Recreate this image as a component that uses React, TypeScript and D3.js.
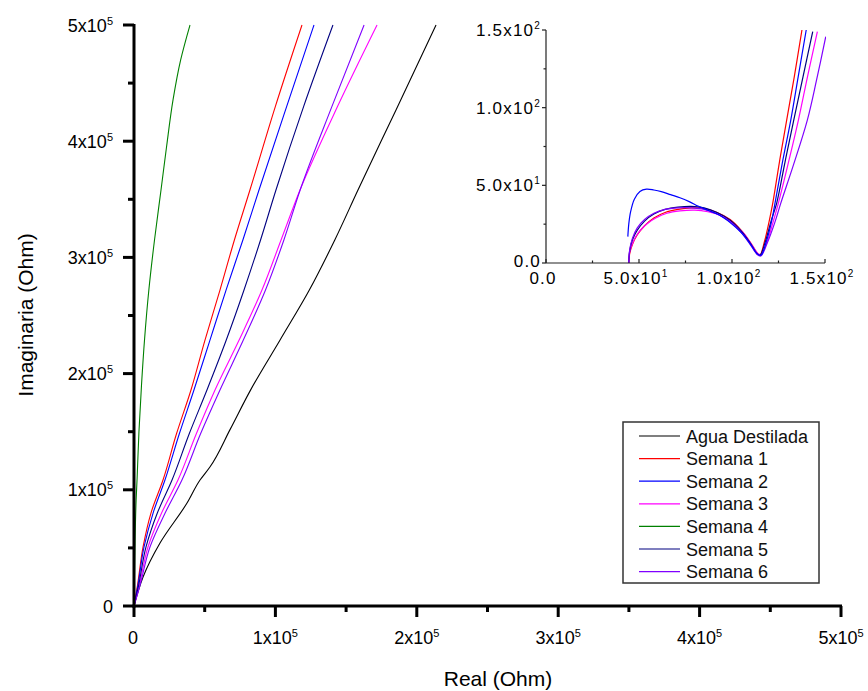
import * as d3 from 'd3';
import React from 'react';

// series names and colours, in legend order
const seriesNames = ['Agua Destilada', 'Semana 1', 'Semana 2', 'Semana 3', 'Semana 4', 'Semana 5', 'Semana 6'];
const seriesColors = ['#000000', '#ff0000', '#0000ff', '#ff00ff', '#008000', '#000080', '#8000ff'];

// main plot: [real, imaginary] in Ohm
const aguaDestilada = [[0, 0], [6.4e3, 25e3], [18.4e3, 54.2e3], [37.5e3, 88.6e3], [46.7e3, 108.4e3], [53.7e3, 119.6e3], [68e3, 152e3], [82.5e3, 186e3], [103.3e3, 228.9e3], [124e3, 271.9e3], [142e3, 315e3], [158.4e3, 358e3], [185.3e3, 426.9e3], [213.6e3, 500e3]];
const semana1 = [[0, 0], [2.5e3, 18e3], [6.4e3, 50.8e3], [12e3, 80e3], [20.5e3, 108.4e3], [30e3, 148e3], [40.3e3, 185.9e3], [50e3, 228e3], [60.8e3, 271.9e3], [71e3, 315e3], [82e3, 358e3], [100e3, 430e3], [118.8e3, 500e3]];
const semana2 = [[0, 0], [2.8e3, 18e3], [7.1e3, 50.8e3], [13.5e3, 80e3], [21.9e3, 108.4e3], [32e3, 148e3], [42.4e3, 185.9e3], [53.5e3, 228e3], [65.1e3, 271.9e3], [77e3, 315e3], [88.4e3, 358e3], [108e3, 430e3], [127.3e3, 500e3]];
const semana3 = [[0, 0], [3.8e3, 18e3], [9.9e3, 50.8e3], [19.5e3, 80e3], [31.1e3, 108.4e3], [44e3, 148e3], [57.3e3, 185.9e3], [74e3, 228e3], [90.5e3, 271.9e3], [104e3, 315e3], [117.4e3, 358e3], [144e3, 430e3], [171.9e3, 500e3]];
const semana4 = [[0, 0], [0.4e3, 30e3], [0.8e3, 60e3], [1.5e3, 91e3], [2.2e3, 110e3], [3.5e3, 150e3], [5.3e3, 190e3], [7.5e3, 230e3], [10.5e3, 271.9e3], [14.5e3, 315e3], [19.1e3, 358e3], [23e3, 395e3], [27.6e3, 435.5e3], [33e3, 470e3], [39.6e3, 500e3]];
const semana5 = [[0, 0], [3.3e3, 18e3], [8.5e3, 50.8e3], [16.5e3, 80e3], [26.9e3, 108.4e3], [39e3, 148e3], [51.6e3, 185.9e3], [65e3, 228e3], [77.8e3, 271.9e3], [89.5e3, 315e3], [100.4e3, 358e3], [120e3, 430e3], [140.7e3, 500e3]];
const semana6 = [[0, 0], [4.3e3, 18e3], [11.3e3, 50.8e3], [22e3, 80e3], [33.9e3, 108.4e3], [47e3, 148e3], [60.8e3, 185.9e3], [77e3, 228e3], [93e3, 271.9e3], [106e3, 315e3], [117.5e3, 358e3], [140e3, 430e3], [162.7e3, 500e3]];

// inset (zoom near the origin), Ohm
const inset1 = [[44.5, 0], [45, 6], [46.5, 12], [49, 18], [53, 24], [58, 29], [64, 32.5], [71, 34.5], [78, 35.5], [85, 35], [92, 32.5], [99, 28], [105, 21], [110, 13], [113.5, 6.5], [115, 5], [117.5, 14], [120, 27], [121.9, 38.4], [125.5, 65], [129.4, 92], [133.5, 120], [137.6, 150]];
const inset2 = [[44, 17], [44.5, 25], [45.5, 33], [47.5, 41], [50.5, 46], [54, 47.5], [58, 47], [62, 46], [67, 44], [72, 42], [77, 39.5], [82, 36.5], [87, 34], [93, 31], [99, 26], [105, 19.5], [110, 12], [113.5, 6], [115.5, 5], [118.5, 14], [121.5, 28], [123.1, 38.4], [127.3, 66], [131.6, 92], [135.6, 120], [139.9, 150]];
const inset3 = [[44.5, 0], [45, 7], [47, 14], [50, 20], [54, 25], [59, 29], [65, 32], [72, 33.5], [80, 34], [87, 33], [94, 30.5], [100, 26], [106, 19.5], [110.5, 12], [114, 6], [115.5, 5.5], [119, 14], [122, 26], [124.9, 38.4], [130, 63], [135.7, 92], [140.6, 120], [145.9, 149]];
const inset5 = [[44.5, 0], [45, 8], [46.5, 15], [49, 21], [53, 27], [58, 31.5], [64, 34.5], [71, 36], [78, 36.5], [85, 35.5], [92, 32.5], [99, 27.5], [105, 20.5], [110, 12.5], [113.5, 6], [115, 5], [118, 14], [121, 27], [124, 38.4], [128.5, 65], [133.2, 92], [138.2, 120], [143.4, 149]];
const inset6 = [[44.5, 0], [45, 8.5], [46.5, 16], [49, 22.5], [53, 28], [58, 32], [64, 34.5], [71, 35.5], [78, 35.5], [85, 34.5], [92, 31.5], [99, 26.5], [105, 19.5], [110, 11.5], [113.5, 5.5], [115.5, 4.5], [119, 13], [123, 26], [126.2, 38.4], [133, 63], [140.5, 92], [145.5, 118], [150.4, 145.7]];

const mainSeries = [aguaDestilada, semana1, semana2, semana3, semana4, semana5, semana6];
const insetSeries = [
  { data: inset1, color: 1 },
  { data: inset3, color: 3 },
  { data: inset5, color: 5 },
  { data: inset6, color: 6 },
  { data: inset2, color: 2 },
];

const mainTicks = [0, 1e5, 2e5, 3e5, 4e5, 5e5];
const mainMinor = [0.5e5, 1.5e5, 2.5e5, 3.5e5, 4.5e5];
const mainTickLabels = [['0', ''], ['1x10', '5'], ['2x10', '5'], ['3x10', '5'], ['4x10', '5'], ['5x10', '5']];
const insetTicks = [0, 50, 100, 150];
const insetMinor = [25, 75, 125];
const insetTickLabels = [['0.0', ''], ['5.0x10', '1'], ['1.0x10', '2'], ['1.5x10', '2']];

const font = '"Liberation Sans", Arial, sans-serif';

const Label = ({ x, y, anchor, parts, size, sup, ls = 0 }) => (
  <text x={x} y={y} textAnchor={anchor} fontSize={size} fontFamily={font} fill="#000" letterSpacing={ls}>
    {parts[0]}
    {parts[1] && (
      <tspan dy={-7} fontSize={sup}>
        {parts[1]}
      </tspan>
    )}
  </text>
);

export default function App() {
  const x = d3.scaleLinear().domain([0, 5e5]).range([134, 841]);
  const y = d3.scaleLinear().domain([0, 5e5]).range([606, 25]);
  const xi = d3.scaleLinear().domain([0, 150]).range([546, 825]);
  const yi = d3.scaleLinear().domain([0, 150]).range([263, 30]);

  // smooth the read-off points a little
  const line = d3.line().x((d) => x(d[0])).y((d) => y(d[1])).curve(d3.curveMonotoneY);
  const lineI = d3.line().x((d) => xi(d[0])).y((d) => yi(d[1])).curve(d3.curveCatmullRom.alpha(0.5));

  return (
    <svg width={868} height={691} style={{ position: 'absolute', left: 0, top: 0, background: '#fff' }}>
      <defs>
        <clipPath id="mainClip">
          <rect x={134} y={24} width={708} height={583} />
        </clipPath>
        <clipPath id="insetClip">
          <rect x={546} y={29} width={280} height={235} />
        </clipPath>
      </defs>

      {/* main curves */}
      <g clipPath="url(#mainClip)" fill="none" strokeWidth={1.1}>
        {mainSeries.map((s, i) => (
          <path key={i} d={line(s)} stroke={seriesColors[i]} />
        ))}
      </g>

      {/* main axes */}
      <g stroke="#000" strokeWidth={3} fill="none">
        <line x1={134} x2={134} y1={24} y2={607.5} />
        <line x1={132.5} x2={842} y1={606} y2={606} />
        {mainTicks.map((t) => (
          <g key={t}>
            <line x1={123} x2={134} y1={y(t)} y2={y(t)} />
            <line x1={x(t)} x2={x(t)} y1={606} y2={617} />
          </g>
        ))}
        {mainMinor.map((t) => (
          <g key={t}>
            <line x1={128} x2={134} y1={y(t)} y2={y(t)} />
            <line x1={x(t)} x2={x(t)} y1={606} y2={612} />
          </g>
        ))}
      </g>
      {mainTicks.map((t, i) => (
        <g key={t}>
          <Label x={113} y={y(t) + 6.5} anchor="end" parts={mainTickLabels[i]} size={18} sup={11} />
          <Label x={x(t) + (i === 0 ? -1 : 0)} y={644} anchor="middle" parts={mainTickLabels[i]} size={18} sup={11} />
        </g>
      ))}
      <text x={498} y={686} textAnchor="middle" fontSize={21} fontFamily={font}>Real (Ohm)</text>
      <text transform="translate(33,315) rotate(-90)" textAnchor="middle" fontSize={21} fontFamily={font}>Imaginaria (Ohm)</text>

      {/* inset */}
      <g clipPath="url(#insetClip)" fill="none" strokeWidth={1.2}>
        {insetSeries.map((s, i) => (
          <path key={i} d={lineI(s.data)} stroke={seriesColors[s.color]} />
        ))}
      </g>
      <g stroke="#222" strokeWidth={1.2} fill="none">
        <line x1={546} x2={546} y1={30} y2={263} />
        <line x1={546} x2={825} y1={263} y2={263} />
        {insetTicks.map((t) => (
          <g key={t}>
            <line x1={542} x2={546} y1={yi(t)} y2={yi(t)} />
            <line x1={xi(t)} x2={xi(t)} y1={263} y2={259} />
          </g>
        ))}
        {insetMinor.map((t) => (
          <g key={t}>
            <line x1={543.5} x2={546} y1={yi(t)} y2={yi(t)} />
            <line x1={xi(t)} x2={xi(t)} y1={263} y2={260.5} />
          </g>
        ))}
      </g>
      {insetTicks.map((t, i) => (
        <g key={t}>
          <Label x={541} y={yi(t) + (i === 0 ? 4 : 6)} anchor="end" parts={insetTickLabels[i]} size={17} sup={10} ls={1.2} />
          <Label x={xi(t) - 3} y={284} anchor="middle" parts={insetTickLabels[i]} size={17} sup={10} ls={1.2} />
        </g>
      ))}

      {/* legend */}
      <rect x={623} y={422} width={196} height={161} fill="#fff" stroke="#333" strokeWidth={1.5} />
      {seriesNames.map((n, i) => {
        const cy = 436 + i * 22.6;
        return (
          <g key={n}>
            <line x1={639} x2={680} y1={cy} y2={cy} stroke={seriesColors[i]} strokeWidth={1.2} />
            <text x={686} y={cy + 6.5} fontSize={18} fontFamily={font} fill="#111">{n}</text>
          </g>
        );
      })}
    </svg>
  );
}
